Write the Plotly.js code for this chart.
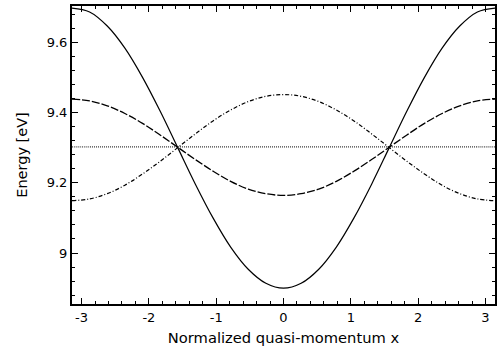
<!DOCTYPE html>
<html>
<head>
<meta charset="utf-8">
<script src="https://cdn.plot.ly/plotly-3.0.1.min.js"></script>
<style>html,body{margin:0;padding:0;background:#fff;}#chart{width:498px;height:351px;}</style>
</head>
<body>
<div id="chart"></div>
<script>
// quasi-momentum samples
var xVals = [-3.142,-2.880,-2.618,-2.356,-2.094,-1.833,-1.571,-1.309,-1.047,-0.785,-0.524,-0.262,0,
             0.262,0.524,0.785,1.047,1.309,1.571,1.833,2.094,2.356,2.618,2.880,3.142];
// band energies (eV)
var solidBand = [9.697,9.686,9.646,9.583,9.500,9.404,9.300,9.196,9.100,9.017,8.954,8.914,8.900,
                 8.914,8.954,9.017,9.100,9.196,9.300,9.404,9.500,9.583,9.646,9.686,9.697];
var dashedBand = [9.438,9.433,9.419,9.397,9.369,9.336,9.301,9.266,9.233,9.204,9.182,9.169,9.164,
                  9.169,9.182,9.204,9.233,9.266,9.301,9.336,9.369,9.397,9.419,9.433,9.438];
var dashDotBand = [9.149,9.154,9.169,9.193,9.225,9.261,9.300,9.339,9.376,9.407,9.431,9.446,9.451,
                   9.446,9.431,9.407,9.376,9.339,9.300,9.261,9.225,9.193,9.169,9.154,9.149];
var dottedBand = [9.302,9.302,9.302,9.302,9.302,9.302,9.302,9.302,9.302,9.302,9.302,9.302,9.302,
                  9.302,9.302,9.302,9.302,9.302,9.302,9.302,9.302,9.302,9.302,9.302,9.302];
var xTicks = [-3,-2,-1,0,1,2,3];
var yTicks = [9,9.2,9.4,9.6];

function tr(y, dash, w){
  return {x:xVals, y:y, mode:'lines', type:'scatter', hoverinfo:'none',
          line:{color:'#000', width:w, dash:dash, shape:'spline'}};
}
var data = [
  tr(dottedBand, '1px,1px', 1),
  tr(dashDotBand, '4px,2px,1px,2px', 1.2),
  tr(dashedBand, '8px,2px', 1.3),
  tr(solidBand, 'solid', 1.2)
];
var font = {family:'DejaVu Sans, Verdana, sans-serif', size:13, color:'#000'};
var layout = {
  width:498, height:351,
  margin:{l:72, r:3, t:6, b:47},
  paper_bgcolor:'#fff', plot_bgcolor:'#fff',
  showlegend:false,
  font:font,
  xaxis:{
    range:[-3.1416,3.1416], tickvals:xTicks, ticktext:xTicks.map(String),
    ticks:'inside', ticklen:6, tickwidth:1, tickcolor:'#000',
    showline:true, linecolor:'#000', linewidth:2, mirror:'ticks',
    showgrid:false, zeroline:false,
    minor:{dtick:0.2, tick0:0, ticks:'inside', ticklen:3, tickcolor:'#000', showgrid:false},
    tickfont:{family:font.family, size:13, color:'#000'},
    title:{text:'Normalized quasi-momentum x', font:{family:font.family, size:14.7, color:'#000'}, standoff:9}
  },
  yaxis:{
    range:[8.855,9.703], tickvals:yTicks, ticktext:['9','9.2','9.4','9.6'],
    ticks:'inside', ticklen:6, tickwidth:1, tickcolor:'#000',
    showline:true, linecolor:'#000', linewidth:2, mirror:'ticks',
    showgrid:false, zeroline:false,
    minor:{dtick:0.04, tick0:9, ticks:'inside', ticklen:3, tickcolor:'#000', showgrid:false},
    tickfont:{family:font.family, size:13, color:'#000'},
    title:{text:'Energy [eV]', font:{family:font.family, size:14.5, color:'#000'}, standoff:16}
  }
};
Plotly.newPlot('chart', data, layout, {staticPlot:true, displayModeBar:false});
</script>
</body>
</html>
